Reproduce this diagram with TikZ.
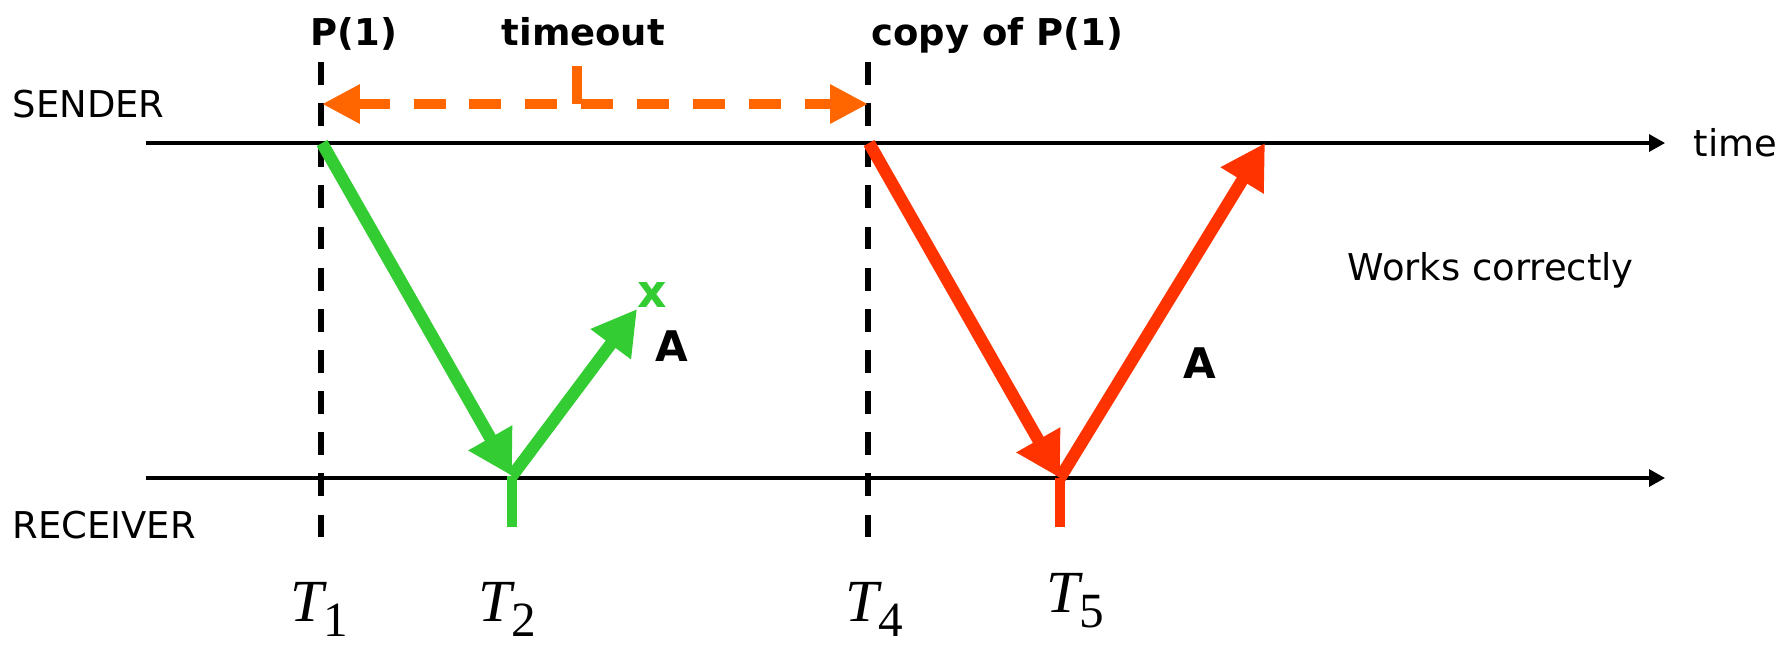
\documentclass[tikz,border=0pt]{standalone}
\usepackage{fontspec}
\setmainfont{DejaVu Sans}
\newfontfamily\timesfont{Liberation Serif}
\usetikzlibrary{arrows.meta,positioning}
\definecolor{ackgreen}{RGB}{51,204,51}
\definecolor{copyred}{RGB}{255,51,0}
\definecolor{timerorange}{RGB}{255,102,0}

\begin{document}
\begin{tikzpicture}[
    x=0.01cm, y=-0.01cm,
    every node/.style={inner sep=0pt, font=\fontsize{10.5}{12}\selectfont},
    axis/.style={-{Triangle[length=4.5pt,width=4.8pt]}, line width=0.9pt},
    marker/.style={line width=1.9pt, dash pattern=on 6.5pt off 5.2pt},
    boldtext/.style={anchor=base west, font=\fontsize{10.5}{12}\selectfont\bfseries},
    acklbl/.style={font=\fontsize{12}{12}\selectfont\bfseries},
    packet/.style={-{Triangle[length=12.5pt,width=13.5pt]}, line width=3.5pt},
    tick/.style={line width=2.8pt},
    timer/.style={{Triangle[length=10.8pt,width=10.5pt]}-{Triangle[length=10.8pt,width=10.5pt]}, line width=2.8pt, dash pattern=on 9.1pt off 6.8pt, timerorange},
    tlabel/.style={anchor=base west, font=\timesfont\fontsize{17}{17}\selectfont\itshape}
]
\useasboundingbox (0,0) rectangle (1786,644);

% time lines
\coordinate (sstart) at (146,143);
\coordinate (send) at (1665,143);
\coordinate (rstart) at (146,478);
\coordinate (rend) at (1665,478);
\draw[axis] (sstart) -- (send);
\draw[axis] (rstart) -- (rend);
\node[anchor=base west] (sender) at (12,117) {SENDER};
\node[anchor=base west] (receiver) at (12,538) {RECEIVER};
\node[anchor=base west] (time) at (1693,156) {time};
\node[anchor=base west] (works) at (1347,280) {Works correctly};

% event markers
\coordinate (m1top) at (321,62);
\coordinate (m1bot) at (321,541);
\coordinate (m4top) at (868,62);
\coordinate (m4bot) at (868,541);
\draw[marker] (m1top) -- (m1bot);
\draw[marker] (m4top) -- (m4bot);
\node[boldtext] (pkt) at (310,45) {P(1)};
\node[boldtext] (timeout) at (501,45) {timeout};
\node[boldtext] (copy) at (871,45) {copy of P(1)};

% timeout interval
\coordinate (tleft) at (322,104);
\coordinate (tright) at (868,104);
\coordinate (ttop) at (577,66);
\coordinate (tmid) at (577,104);
\draw[timer] (tleft) -- (tright);
\draw[timerorange, line width=2.6pt] (ttop) -- (tmid);

% first packet, ack lost
\coordinate (p1) at (322,143);
\coordinate (r2) at (512,476);
\coordinate (r2low) at (512,527);
\coordinate (lostend) at (637,309);
\draw[packet, ackgreen] (p1) -- (r2);
\draw[packet, ackgreen] (r2) -- (lostend);
\draw[tick, ackgreen] (r2) -- (r2low);
\node[font=\fontsize{13}{13}\selectfont\bfseries, text=ackgreen] (lost) at (652,295) {x};
\node[acklbl] (ack1) at (672,346) {A};

% copy of the packet
\coordinate (p4) at (869,143);
\coordinate (r5) at (1060,478);
\coordinate (r5low) at (1060,527);
\coordinate (s5) at (1265,143);
\draw[packet, copyred] (p4) -- (r5);
\draw[packet, copyred] (r5) -- (s5);
\draw[tick, copyred] (r5) -- (r5low);
\node[acklbl] (ack2) at (1200,363) {A};

% instants
\node[tlabel] (t1) at (290,621) {T\raisebox{-4.5pt}{\upshape\fontsize{14}{14}\selectfont 1}};
\node[tlabel] (t2) at (478,621) {T\raisebox{-4.5pt}{\upshape\fontsize{14}{14}\selectfont 2}};
\node[tlabel] (t4) at (845,621) {T\raisebox{-4.5pt}{\upshape\fontsize{14}{14}\selectfont 4}};
\node[tlabel] (t5) at (1046,612) {T\raisebox{-4.5pt}{\upshape\fontsize{14}{14}\selectfont 5}};
\end{tikzpicture}
\end{document}
